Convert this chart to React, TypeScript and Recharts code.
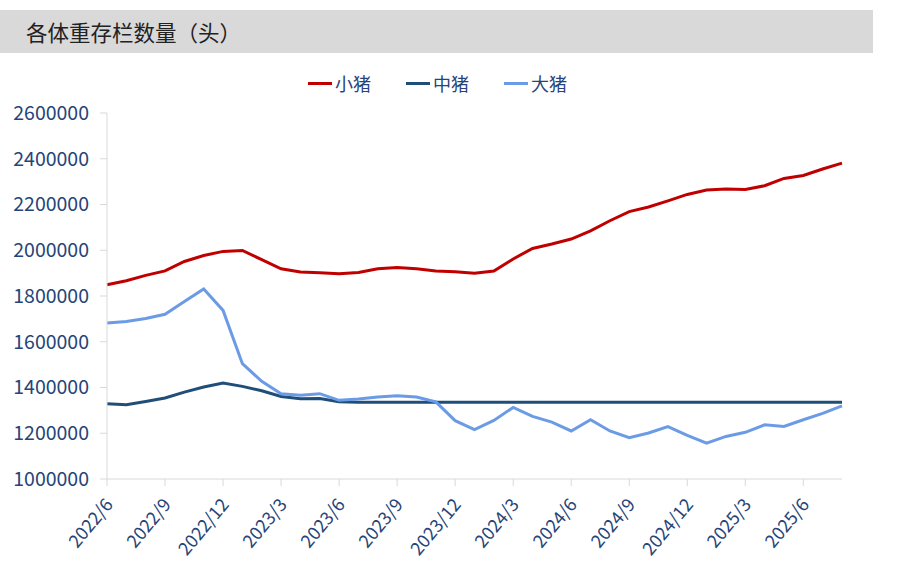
import React from 'react'
import { LineChart, Line, XAxis, YAxis } from 'recharts'

const months = [
  '2022/6', '2022/7', '2022/8', '2022/9', '2022/10', '2022/11', '2022/12',
  '2023/1', '2023/2', '2023/3', '2023/4', '2023/5', '2023/6', '2023/7', '2023/8', '2023/9', '2023/10', '2023/11', '2023/12',
  '2024/1', '2024/2', '2024/3', '2024/4', '2024/5', '2024/6', '2024/7', '2024/8', '2024/9', '2024/10', '2024/11', '2024/12',
  '2025/1', '2025/2', '2025/3', '2025/4', '2025/5', '2025/6', '2025/7', '2025/8',
]

const smallPigs = [
  1849000, 1867000, 1890000, 1910000, 1951000, 1977000, 1995000,
  1999000, 1959000, 1919000, 1905000, 1902000, 1897000, 1903000, 1919000, 1925000, 1919000, 1909000, 1906000,
  1899000, 1909000, 1962000, 2008000, 2027000, 2049000, 2085000, 2129000, 2169000, 2189000, 2216000, 2244000,
  2263000, 2268000, 2266000, 2282000, 2314000, 2327000, 2355000, 2381000,
]

const midPigs = [
  1329000, 1325000, 1339000, 1354000, 1380000, 1402000, 1420000,
  1405000, 1386000, 1361000, 1351000, 1352000, 1338000, 1336000, 1336000, 1336000, 1336000, 1336000, 1336000,
  1336000, 1336000, 1336000, 1336000, 1336000, 1336000, 1336000, 1336000, 1336000, 1336000, 1336000, 1336000,
  1336000, 1336000, 1336000, 1336000, 1336000, 1336000, 1336000, 1336000,
]

const bigPigs = [
  1682000, 1689000, 1702000, 1720000, 1776000, 1831000, 1737000,
  1504000, 1427000, 1373000, 1366000, 1373000, 1344000, 1350000, 1358000, 1364000, 1358000, 1337000, 1255000,
  1216000, 1256000, 1313000, 1274000, 1249000, 1210000, 1259000, 1210000, 1181000, 1201000, 1229000, 1191000,
  1157000, 1186000, 1204000, 1237000, 1230000, 1259000, 1287000, 1320000,
]

const yTicks = [1000000, 1200000, 1400000, 1600000, 1800000, 2000000, 2200000, 2400000, 2600000]

const data = months.map((m, i) => ({
  month: m,
  small: smallPigs[i],
  mid: midPigs[i],
  big: bigPigs[i],
}))

const FONT = '"Noto Sans CJK SC", "Noto Sans", sans-serif'
const TEXT = '#264478'

const legendItems = [
  { name: '小猪', color: '#C00000' },
  { name: '中猪', color: '#1F4E79' },
  { name: '大猪', color: '#6C9BE6' },
]

function XTick(props: any) {
  const { x, y, payload } = props
  return (
    <g transform={`translate(${x + 3},${y + 14})`}>
      <text textAnchor="end" fill={TEXT} fontSize={18} fontFamily={FONT} transform="rotate(-50)" dy={5}>
        {payload.value}
      </text>
    </g>
  )
}

export default function App() {
  return (
    <div style={{ position: 'absolute', left: 0, top: 0, width: 898, height: 582, background: '#fff' }}>
      <div
        style={{
          position: 'absolute',
          left: 0,
          top: 10,
          width: 873,
          height: 43,
          background: '#D9D9D9',
          fontFamily: FONT,
          fontSize: 21.5,
          color: '#222',
          lineHeight: '43px',
          paddingLeft: 26,
          boxSizing: 'border-box',
        }}
      >
        各体重存栏数量（头）
      </div>
      <div
        style={{
          position: 'absolute',
          left: 308,
          top: 71,
          display: 'flex',
          gap: 35,
          fontFamily: FONT,
          fontSize: 18,
          color: TEXT,
          lineHeight: '24px',
        }}
      >
        {legendItems.map((it) => (
          <div key={it.name} style={{ display: 'flex', alignItems: 'center' }}>
            <span style={{ display: 'inline-block', width: 24, height: 3, background: it.color, marginRight: 3 }} />
            <span>{it.name}</span>
          </div>
        ))}
      </div>
      <LineChart width={898} height={582} data={data} margin={{ top: 113, right: 56, bottom: 0, left: 0 }}>
        <XAxis
          dataKey="month"
          interval={2}
          tick={<XTick />}
          tickLine={{ stroke: '#D9D9D9' }}
          axisLine={{ stroke: '#D9D9D9' }}
          tickSize={7}
          height={103}
        />
        <YAxis
          domain={[1000000, 2600000]}
          ticks={yTicks}
          width={107}
          tick={{ fill: TEXT, fontSize: 19.5, fontFamily: FONT }}
          tickLine={{ stroke: '#D9D9D9' }}
          axisLine={{ stroke: '#D9D9D9' }}
          tickSize={7}
          tickMargin={11}
          allowDataOverflow
        />
        <Line dataKey="small" name="小猪" stroke="#C00000" strokeWidth={3} dot={false} isAnimationActive={false} />
        <Line dataKey="mid" name="中猪" stroke="#1F4E79" strokeWidth={3} dot={false} isAnimationActive={false} />
        <Line dataKey="big" name="大猪" stroke="#6C9BE6" strokeWidth={3} dot={false} isAnimationActive={false} />
      </LineChart>
    </div>
  )
}
